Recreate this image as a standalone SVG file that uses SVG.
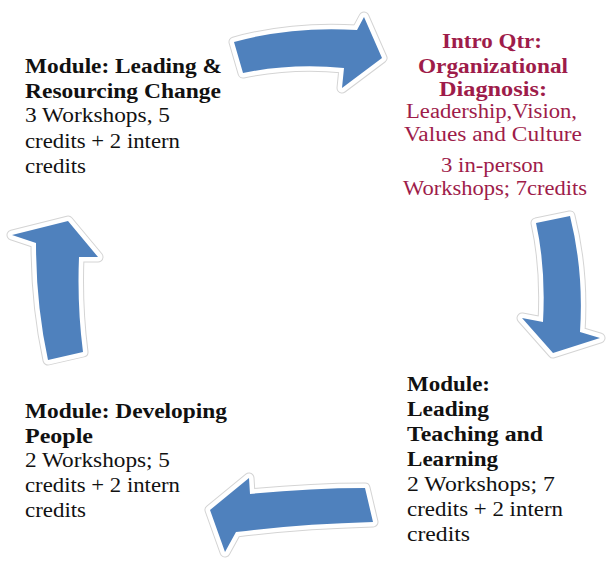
<svg xmlns="http://www.w3.org/2000/svg" xmlns:xlink="http://www.w3.org/1999/xlink" width="608" height="561" viewBox="0 0 608 561">
<style>
.b{font-family:"Liberation Serif","Times New Roman",serif;font-weight:bold;font-size:20px;fill:#111}
.r{font-family:"Liberation Serif","Times New Roman",serif;font-size:20px;fill:#111}
.cb{font-family:"Liberation Serif","Times New Roman",serif;font-weight:bold;font-size:20px;fill:#9E1C4A;text-anchor:middle}
.cr{font-family:"Liberation Serif","Times New Roman",serif;font-size:20px;fill:#9E1C4A;text-anchor:middle}
.halo1{fill:#d4d4d4;stroke:#d4d4d4;stroke-width:11;stroke-linejoin:round}
.halo2{fill:#fff;stroke:#fff;stroke-width:9;stroke-linejoin:round}
.arr{fill:#4F81BD;stroke:none}
</style>
<defs>
<path id="a1" d="M234,42 Q292,26 357,30 L364,17 L382,58 L342,88 L344,68 Q292,63 243,73 Z"/>
<path id="a2" d="M536,223 L570,216 Q584,272 580,332 L600,338 L553,353 L522,318 L543,322 Q546,268 536,223 Z"/>
<path id="a3" d="M210,510 L249,478 L250,494 Q310,488 365,488 L373,522 Q300,524 236,532 L225,552 Z"/>
<path id="a4" d="M12,235 L68,221 L98,257 L79,257 Q77,305 83,352 L48,360 Q36,305 36,243 Z"/>
</defs>
<rect width="608" height="561" fill="#fff"/>
<g id="connectors">
<use xlink:href="#a1" class="halo1"/><use xlink:href="#a1" class="halo2"/><use xlink:href="#a1" class="arr"/>
<use xlink:href="#a2" class="halo1"/><use xlink:href="#a2" class="halo2"/><use xlink:href="#a2" class="arr"/>
<use xlink:href="#a3" class="halo1"/><use xlink:href="#a3" class="halo2"/><use xlink:href="#a3" class="arr"/>
<use xlink:href="#a4" class="halo1"/><use xlink:href="#a4" class="halo2"/><use xlink:href="#a4" class="arr"/>
</g>
<g id="node-leading-resourcing">
<text class="b" x="25" y="73" textLength="197" lengthAdjust="spacingAndGlyphs">Module: Leading &amp;</text>
<text class="b" x="25" y="98" textLength="196" lengthAdjust="spacingAndGlyphs">Resourcing Change</text>
<text class="r" x="25" y="122" textLength="145" lengthAdjust="spacingAndGlyphs">3 Workshops, 5</text>
<text class="r" x="25" y="148" textLength="155" lengthAdjust="spacingAndGlyphs">credits + 2 intern</text>
<text class="r" x="25" y="173" textLength="61" lengthAdjust="spacingAndGlyphs">credits</text>
</g>
<g id="node-intro">
<text class="cb" x="492" y="48" textLength="100" lengthAdjust="spacingAndGlyphs">Intro Qtr:</text>
<text class="cb" x="493" y="73" textLength="150" lengthAdjust="spacingAndGlyphs">Organizational</text>
<text class="cb" x="493" y="96" textLength="108" lengthAdjust="spacingAndGlyphs">Diagnosis:</text>
<text class="cr" x="491.5" y="118" textLength="171" lengthAdjust="spacingAndGlyphs">Leadership,Vision,</text>
<text class="cr" x="493" y="141" textLength="178" lengthAdjust="spacingAndGlyphs">Values  and Culture</text>
<text class="cr" x="492.5" y="172" textLength="103" lengthAdjust="spacingAndGlyphs">3 in-person</text>
<text class="cr" x="495" y="195" textLength="184" lengthAdjust="spacingAndGlyphs">Workshops; 7credits</text>
</g>
<g id="node-teaching-learning">
<text class="b" x="407" y="391" textLength="83" lengthAdjust="spacingAndGlyphs">Module:</text>
<text class="b" x="407" y="416" textLength="82" lengthAdjust="spacingAndGlyphs">Leading</text>
<text class="b" x="407" y="441" textLength="136" lengthAdjust="spacingAndGlyphs">Teaching and</text>
<text class="b" x="407" y="466" textLength="91" lengthAdjust="spacingAndGlyphs">Learning</text>
<text class="r" x="407" y="491" textLength="148" lengthAdjust="spacingAndGlyphs">2 Workshops; 7</text>
<text class="r" x="407" y="516" textLength="156" lengthAdjust="spacingAndGlyphs">credits + 2 intern</text>
<text class="r" x="407" y="541" textLength="63" lengthAdjust="spacingAndGlyphs">credits</text>
</g>
<g id="node-developing-people">
<text class="b" x="25" y="418" textLength="202" lengthAdjust="spacingAndGlyphs">Module: Developing</text>
<text class="b" x="25" y="443" textLength="68" lengthAdjust="spacingAndGlyphs">People</text>
<text class="r" x="25" y="467" textLength="145" lengthAdjust="spacingAndGlyphs">2 Workshops; 5</text>
<text class="r" x="25" y="492" textLength="155" lengthAdjust="spacingAndGlyphs">credits + 2 intern</text>
<text class="r" x="25" y="517" textLength="61" lengthAdjust="spacingAndGlyphs">credits</text>
</g>
</svg>
